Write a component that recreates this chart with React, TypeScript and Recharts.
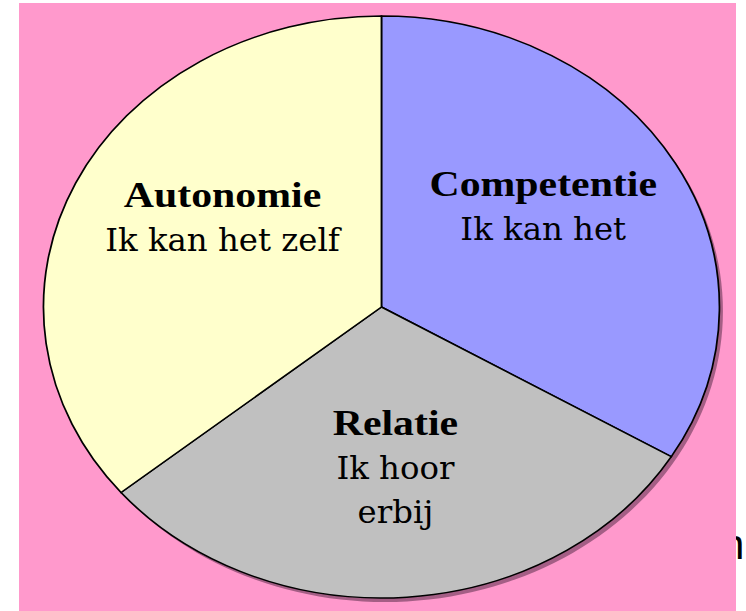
import React from 'react'
import { PieChart, Pie, Cell } from 'recharts'

const categories = ['Competentie', 'Relatie', 'Autonomie']
const subtitles = [['Ik kan het'], ['Ik hoor', 'erbij'], ['Ik kan het zelf']]
const values = [33.6, 30.4, 36.0]
const colors = ['#9999FF', '#C0C0C0', '#FFFFCC']

const data = categories.map((name, i) => ({ name, value: values[i] }))
const shadowData = [{ value: 1 }]

// the original picture is a stretched circle, so the svg is scaled in x
const SCALE_X = 1.1615
const RAD = Math.PI / 180
const LINE_H = 44
const SERIF_BOLD = 'Liberation Serif, Times New Roman, serif'
const SERIF_REG = 'DejaVu Serif Condensed, DejaVu Serif, serif'

const renderLabel = (props: any) => {
  const { cx, cy, midAngle, outerRadius, index } = props
  const r = outerRadius * 0.55
  const x = cx + r * Math.cos(-midAngle * RAD) + (index === 2 ? 8 : 0)
  const y = cy + r * Math.sin(-midAngle * RAD)
  const lines = [categories[index], ...subtitles[index]]
  const top = y - LINE_H + 12
  return (
    <g>
      {lines.map((line, i) => (
        <text
          key={i}
          x={x}
          y={top + i * LINE_H}
          textAnchor="middle"
          fill="#000"
          style={
            i === 0
              ? { fontFamily: SERIF_BOLD, fontSize: 36, fontWeight: 700 }
              : { fontFamily: SERIF_REG, fontSize: 31, fontWeight: 400 }
          }
        >
          {line}
        </text>
      ))}
    </g>
  )
}

export default function App() {
  return (
    <div
      style={{
        position: 'fixed',
        top: 0,
        left: 0,
        width: 746,
        height: 611,
        background: '#fff',
        overflow: 'hidden',
      }}
    >
      <svg width={746} height={611} style={{ position: 'absolute', left: 0, top: 0 }}>
        <text x={721} y={559} fontSize={42} fontFamily="'Liberation Sans', Arial, sans-serif" fill="#000">
          n
        </text>
      </svg>
      <div
        style={{
          position: 'absolute',
          left: 19,
          top: 3,
          width: 717,
          height: 608,
          background: '#FF99CC',
        }}
      />
      <div
        style={{
          position: 'absolute',
          left: 32.5,
          top: 0,
          transform: `scaleX(${SCALE_X})`,
          transformOrigin: '0 0',
        }}
      >
        <PieChart width={600} height={611} margin={{ top: 0, right: 0, bottom: 0, left: 0 }}>
          <Pie
            data={shadowData}
            dataKey="value"
            cx={303}
            cy={311}
            outerRadius={291}
            fill="#5a2d4a"
            fillOpacity={0.55}
            stroke="none"
            isAnimationActive={false}
          />
          <Pie
            data={data}
            dataKey="value"
            nameKey="name"
            cx={300}
            cy={307}
            outerRadius={291}
            startAngle={90}
            endAngle={-270}
            stroke="#000"
            strokeWidth={1.5}
            label={renderLabel}
            labelLine={false}
            isAnimationActive={false}
          >
            {data.map((d, i) => (
              <Cell key={d.name} fill={colors[i]} />
            ))}
          </Pie>
        </PieChart>
      </div>
    </div>
  )
}
